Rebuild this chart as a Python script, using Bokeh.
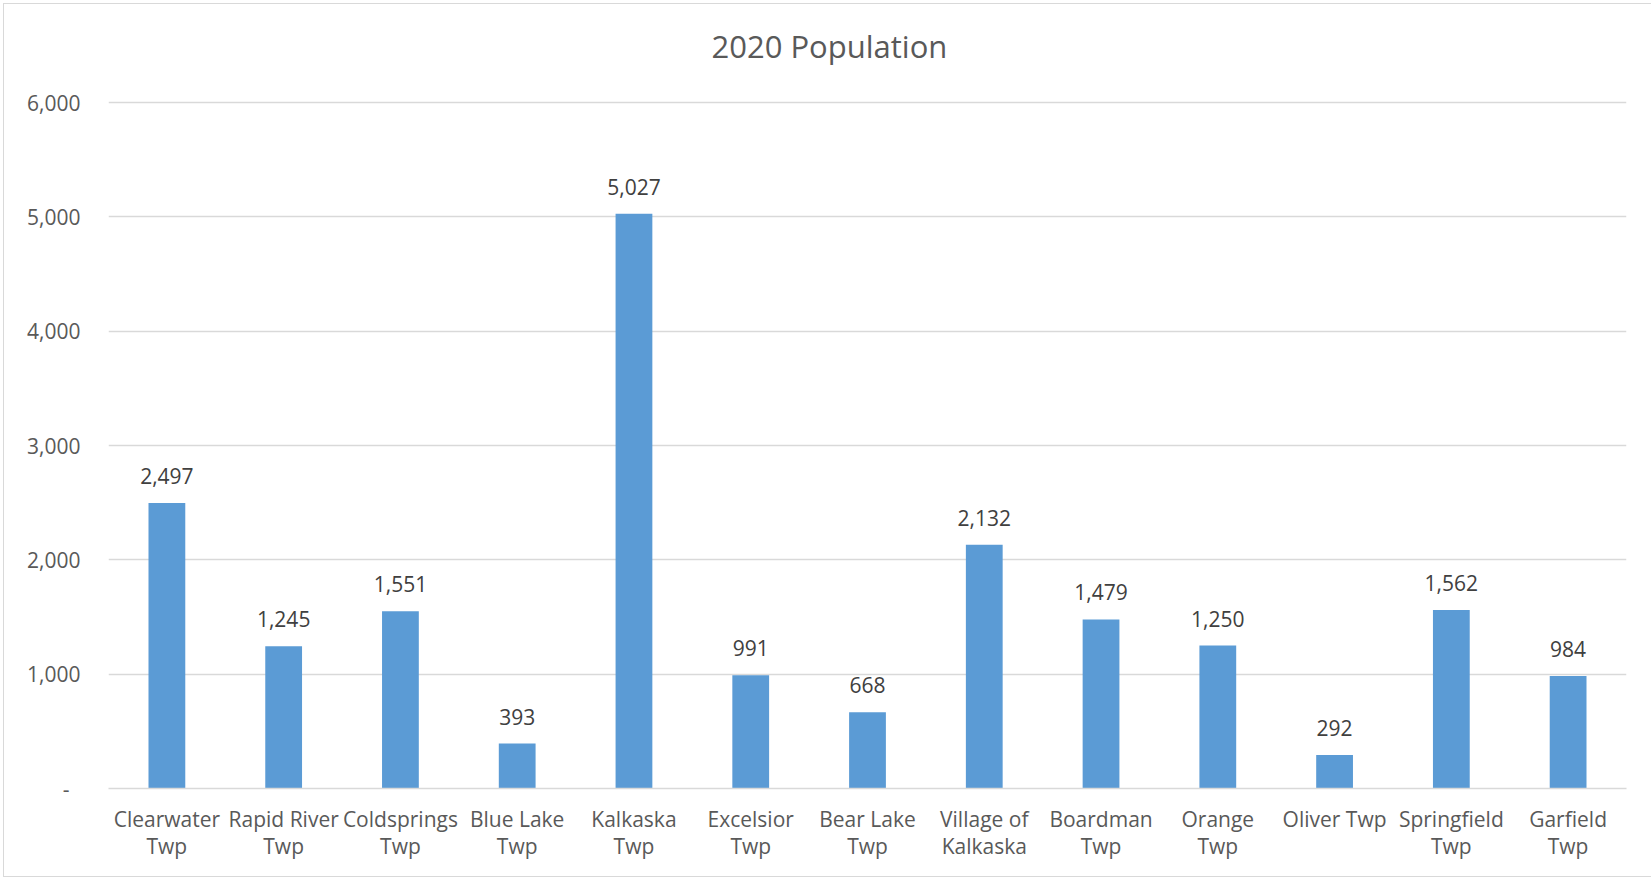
from bokeh.plotting import figure
from bokeh.models import ColumnDataSource, NumeralTickFormatter, FixedTicker, Range1d, Title
from bokeh.core.properties import value
from bokeh.embed import file_html
from bokeh.resources import INLINE

categories = ["Clearwater\nTwp", "Rapid River\nTwp", "Coldsprings\nTwp", "Blue Lake\nTwp",
              "Kalkaska\nTwp", "Excelsior\nTwp", "Bear Lake\nTwp", "Village of\nKalkaska",
              "Boardman\nTwp", "Orange\nTwp", "Oliver Twp", "Springfield\nTwp", "Garfield\nTwp"]
population = [2497, 1245, 1551, 393, 5027, 991, 668, 2132, 1479, 1250, 292, 1562, 984]
y_ticks = [0, 1000, 2000, 3000, 4000, 5000, 6000]
title_text = "2020 Population"

labels = [f"{v:,}" for v in population]
src = ColumnDataSource(dict(cat=categories, pop=population, lab=labels))

FONT = "Open Sans"
TXT = "#595959"

# frame extends a little above the top gridline (no outline), leaving room for the title
p = figure(x_range=categories, y_range=Range1d(0, 6245), width=1648, height=874,
           output_backend="svg", toolbar_location=None,
           min_border_left=104, min_border_right=26, min_border_top=70, min_border_bottom=90)
p.margin = (3, 0, 0, 3)
p.styles = {"border-left": "1px solid #d9d9d9", "border-top": "1px solid #d9d9d9",
            "border-bottom": "1px solid #d9d9d9"}
p.outline_line_color = None
p.background_fill_color = "white"
p.border_fill_color = "white"

p.vbar(x="cat", top="pop", width=0.315, source=src, color="#5b9bd5", line_color=None)
p.text(x="cat", y="pop", text="lab", source=src, text_align="center", text_baseline="middle",
       y_offset=-27, text_font=value(FONT), text_font_size="21px", text_color="#404040")

# y axis
p.yaxis.ticker = FixedTicker(ticks=y_ticks)
p.yaxis.formatter = NumeralTickFormatter(format="0,0")
p.yaxis.major_label_overrides = {0: "-\u00a0\u00a0"}
p.yaxis.axis_line_color = None
p.yaxis.major_tick_line_color = None
p.yaxis.minor_tick_line_color = None
p.yaxis.major_label_standoff = 22
p.yaxis.major_label_text_font = FONT
p.yaxis.major_label_text_font_size = "21px"
p.yaxis.major_label_text_color = TXT

# x axis
xa = p.xaxis[0]
xa.axis_line_color = "#d9d9d9"
xa.axis_line_width = 1.5
xa.major_tick_line_color = None
xa.minor_tick_line_color = None
xa.major_label_standoff = 10
xa.major_label_text_font = FONT
xa.major_label_text_font_size = "21px"
xa.major_label_text_color = TXT
xa.major_label_text_line_height = 0.97
xa.major_label_orientation = "horizontal"

p.xgrid.grid_line_color = None
p.ygrid.grid_line_color = "#d9d9d9"
p.ygrid.grid_line_width = 1.5

title = Title(text=title_text, align="left", offset=603, standoff=15, text_font=FONT,
              text_font_size="31px", text_font_style="normal", text_color=TXT)
p.add_layout(title, "above")

open("out.html", "w").write(file_html(p, INLINE))
